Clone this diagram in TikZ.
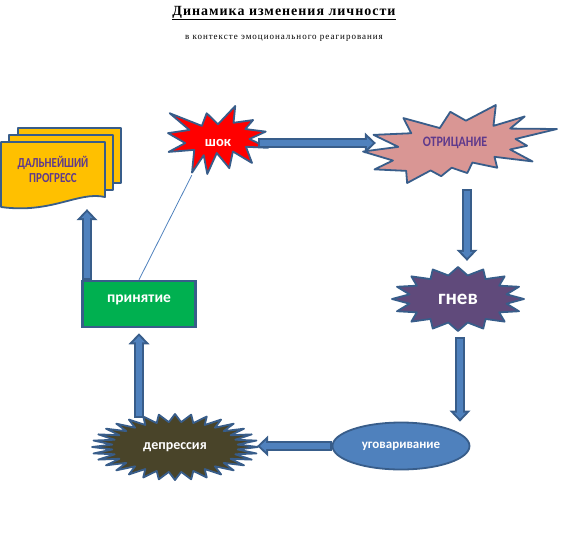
\documentclass[tikz,border=0pt]{standalone}
\usepackage{fontspec}
\setmainfont{Liberation Serif}
\newfontfamily\lblfont{Carlito}
\usetikzlibrary{arrows.meta,shapes.geometric,calc}

\definecolor{bordc}{HTML}{385D8A}
\definecolor{arrc}{HTML}{4F81BD}
\definecolor{otrc}{HTML}{D99694}
\definecolor{gnevc}{HTML}{604A7B}
\definecolor{deprc}{HTML}{494429}
\definecolor{princ}{HTML}{00B050}
\definecolor{progc}{HTML}{FFC000}
\definecolor{violc}{HTML}{5F3A8C}

\begin{document}
\begin{tikzpicture}[x=1pt,y=-1pt,
    shp/.style={draw=bordc, line width=1.8pt, line join=round},
    lbl/.style={font=\lblfont\bfseries\fontsize{#1}{#1}\selectfont, text=white, inner sep=0pt},
    blk/.style={line width=10pt, draw=bordc, -{Triangle[length=11pt,width=21pt,line width=0pt]},
      postaction={draw=arrc, line width=6pt, shorten <=2pt, shorten >=2.9pt,
        -{Triangle[length=6.1pt,width=11.6pt,line width=0pt]}}}]
  \useasboundingbox (0,0) rectangle (578,552);

  % заголовок
  \node[anchor=base, font=\bfseries\fontsize{14}{16}\selectfont\addfontfeature{LetterSpace=7}] (title) at (284,15)
    {\underline{Динамика изменения личности}};
  \node[anchor=base, font=\fontsize{9}{10}\selectfont\addfontfeature{LetterSpace=11}] (subtitle) at (284,39)
    {в контексте эмоционального реагирования};

  % шок
  \begin{scope}[shift={(168,106)}, x=1pt, y=-0.68pt]
    \filldraw[shp, fill=red] (50,26.85) -- (67.23,0) -- (65.53,24.65) -- (85.09,20.63)
      -- (77.32,33.87) -- (97.67,37.67) -- (81.51,48.5) -- (100,61.53) -- (77.95,59.92)
      -- (84,83.77) -- (64.91,66.93) -- (61.33,91.38) -- (48.76,69.14) -- (39.28,100)
      -- (35.72,72.35) -- (24,98) -- (26.24,64.52) -- (0.63,67.53) -- (17.23,54.51)
      -- (0,39.88) -- (21.42,35.26) -- (1.71,10.63) -- (33.85,29.26) -- (38.67,10.63) -- cycle;
  \end{scope}

  % отрицание
  \begin{scope}[shift={(363,105)}, x=1.94pt, y=-0.78pt]
    \filldraw[shp, fill=otrc] (53.06,20.1) -- (68.47,0) -- (67.25,26.75) -- (83.37,14.69)
      -- (75.83,30.24) -- (100,30.76) -- (78.63,43.53) -- (84.58,52.27) -- (75.83,56.99)
      -- (87.39,72.37) -- (67.78,66.44) -- (69.18,80.42) -- (56.39,73.77) -- (53.76,87.23)
      -- (45.7,80.42) -- (40.28,91.26) -- (34.85,83.91) -- (22.76,100) -- (22.25,84.44)
      -- (5.95,82.52) -- (15.42,71.16) -- (0,59.62) -- (18.22,53.67) -- (5.43,38.29)
      -- (24.87,36.19) -- (20.84,16.78) -- (39.58,29.55) -- (45.01,8.74) -- cycle;
  \end{scope}

  % гнев
  \filldraw[shp, fill=gnevc, shift={(458,299)}] plot[samples=33, domain=0:32, variable=\k]
    ({\k*11.25}:{66-16.5*mod(\k,2)} and {32-8*mod(\k,2)}) -- cycle;

  % депрессия
  \filldraw[shp, fill=deprc, shift={(175,447)}] plot[samples=65, domain=0:64, variable=\k]
    ({\k*5.625}:{83-20*mod(\k,2)} and {33-8*mod(\k,2)}) -- cycle;

  % дальнейший прогресс
  \filldraw[shp, fill=progc] (18,128) rectangle (121,183);
  \filldraw[shp, fill=progc] (9,135) rectangle (113,190);
  \filldraw[shp, fill=progc] (1,142) -- (105,142) -- (105,197)
    .. controls (78,191) and (52,214) .. (1,207) -- cycle;

  \node[lbl=14.5, minimum width=80pt, minimum height=64pt] (shok) at (218,143) {шок};
  \node[lbl=12, text=violc, minimum width=158pt, minimum height=92pt] (otr) at (455,143)
    {\scalebox{1}[1.2]{ОТРИЦАНИЕ}};
  \node[lbl=21, minimum width=132pt, minimum height=76pt] (gnev) at (458,299) {гнев};
  \node[ellipse, shp, fill=arrc, lbl=13, minimum width=137pt, minimum height=47pt] (ugov) at (401,446) {уговаривание};
  \node[lbl=14, minimum width=164pt, minimum height=58pt] (depr) at (175,447) {депрессия};
  \node[lbl=11, text=violc, align=center, minimum height=80pt] (prog) at (53,169)
    {\scalebox{1}[1.25]{ДАЛЬНЕЙШИЙ}\\[3pt]\scalebox{1}[1.25]{ПРОГРЕСС}};
  \node[rectangle, draw=bordc, line width=2.5pt, fill=princ, minimum width=113pt, minimum height=46pt,
    lbl=15.5, text height=6pt, text depth=9pt] (prin) at (139,304) {принятие};

  \draw[arrc, line width=0.8pt] (prin.north) -- ([xshift=14pt]shok.south west);

  % стрелки
  \draw[blk] (shok.east) -- (otr.west);
  \draw[blk] ([xshift=12pt]otr.south) -- ([xshift=9pt]gnev.north);
  \draw[blk] let \p1=([xshift=2pt]gnev.south), \p2=(ugov.north) in (\p1) -- (\x1,\y2);
  \draw[blk] let \p1=(ugov.west), \p2=(depr.east) in (\p1) -- (\x2,\y1);
  \draw[blk] let \p1=(prin.south), \p2=(depr.north) in (\x1,\y2) -- (\x1,\y1-5pt);
  \draw[blk] let \p1=([xshift=-52pt]prin.north), \p2=(prog.south) in (\p1) -- (\x1,\y2);
\end{tikzpicture}
\end{document}
